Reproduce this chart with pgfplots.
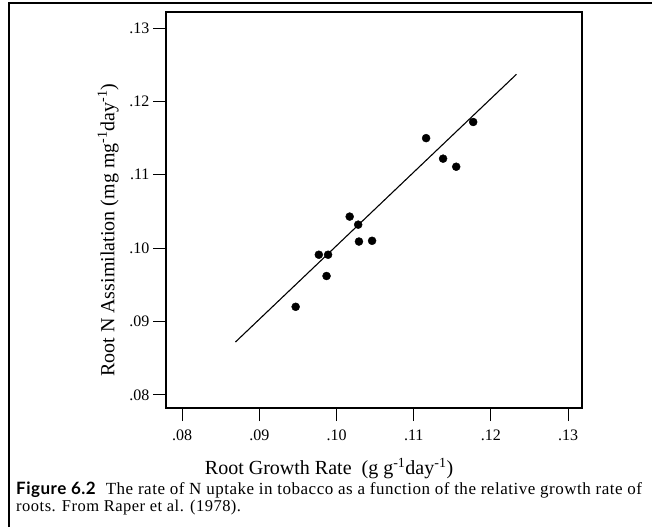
\documentclass[border=0pt]{standalone}
\usepackage{fontspec}
\setmainfont{Liberation Serif}
\newfontfamily\capsans[LetterSpace=3]{Lato}
\newfontfamily\capserif[LetterSpace=3]{Liberation Serif}
\usepackage{pgfplots}
\pgfplotsset{compat=1.18}

\begin{document}
\begin{tikzpicture}
% page is 652 x 527 pt, one pt per pixel of the reference
\useasboundingbox (0pt,0pt) rectangle (652pt,527pt);
\clip (0pt,0pt) rectangle (652pt,527pt);
\fill[white] (0pt,0pt) rectangle (652pt,527pt);
\draw[line width=1.5pt] (9pt,0pt) -- (9pt,524pt) -- (652pt,524pt);

\begin{axis}[
    at={(166pt,119pt)}, anchor=south west,
    scale only axis,
    width=416pt, height=396pt,
    xmin=0.0779, xmax=0.1318,
    ymin=0.0782, ymax=0.1322,
    axis line style={line width=1.1pt},
    tick align=outside,
    major tick length=13pt,
    tick style={line width=1.1pt, black},
    xtick={0.08,0.09,0.10,0.11,0.12,0.13},
    xticklabels={.08,.09,.10,.11,.12,.13},
    ytick={0.08,0.09,0.10,0.11,0.12,0.13},
    yticklabels={.08,.09,.10,.11,.12,.13},
    xtick pos=bottom, ytick pos=left,
    ticklabel style={font=\fontsize{16}{18}\selectfont},
    xticklabel style={yshift=-5pt},
    xlabel={Root Growth Rate\ \ (g g\textsuperscript{-1}day\textsuperscript{-1})},
    ylabel={Root N Assimilation (mg mg\textsuperscript{-1}day\textsuperscript{-1})},
    label style={font=\fontsize{20}{22}\selectfont},
    xlabel style={at={(axis description cs:0.392,-0.169)}, anchor=base},
    ylabel style={at={(axis description cs:-0.139,0.449)}, anchor=center},
    clip=false,
]
% regression line
\addplot[black, line width=1.1pt] coordinates {(0.0869,0.0872) (0.1233,0.1237)};
% observations
\addplot[only marks, mark=*, mark size=4pt, black] coordinates {
    (0.0947,0.0920) (0.0977,0.0991) (0.0989,0.0991) (0.0987,0.0962)
    (0.1017,0.1043) (0.1028,0.1032) (0.1029,0.1009) (0.1046,0.1010)
    (0.1116,0.1150) (0.1138,0.1122) (0.1155,0.1111) (0.1177,0.1172)
};
\end{axis}

\node[anchor=base west, inner sep=0pt] at (16pt,33pt)
    {{\capsans\bfseries\fontsize{17}{18}\selectfont Figure 6.2}\hspace{10pt}{\capserif\fontsize{17}{18}\selectfont The rate of N uptake in tobacco as a function of the relative growth rate of}};
\node[anchor=base west, inner sep=0pt] at (16pt,16pt)
    {\capserif\fontsize{16.5}{18}\selectfont roots. From Raper et al. (1978).};
\end{tikzpicture}
\end{document}
